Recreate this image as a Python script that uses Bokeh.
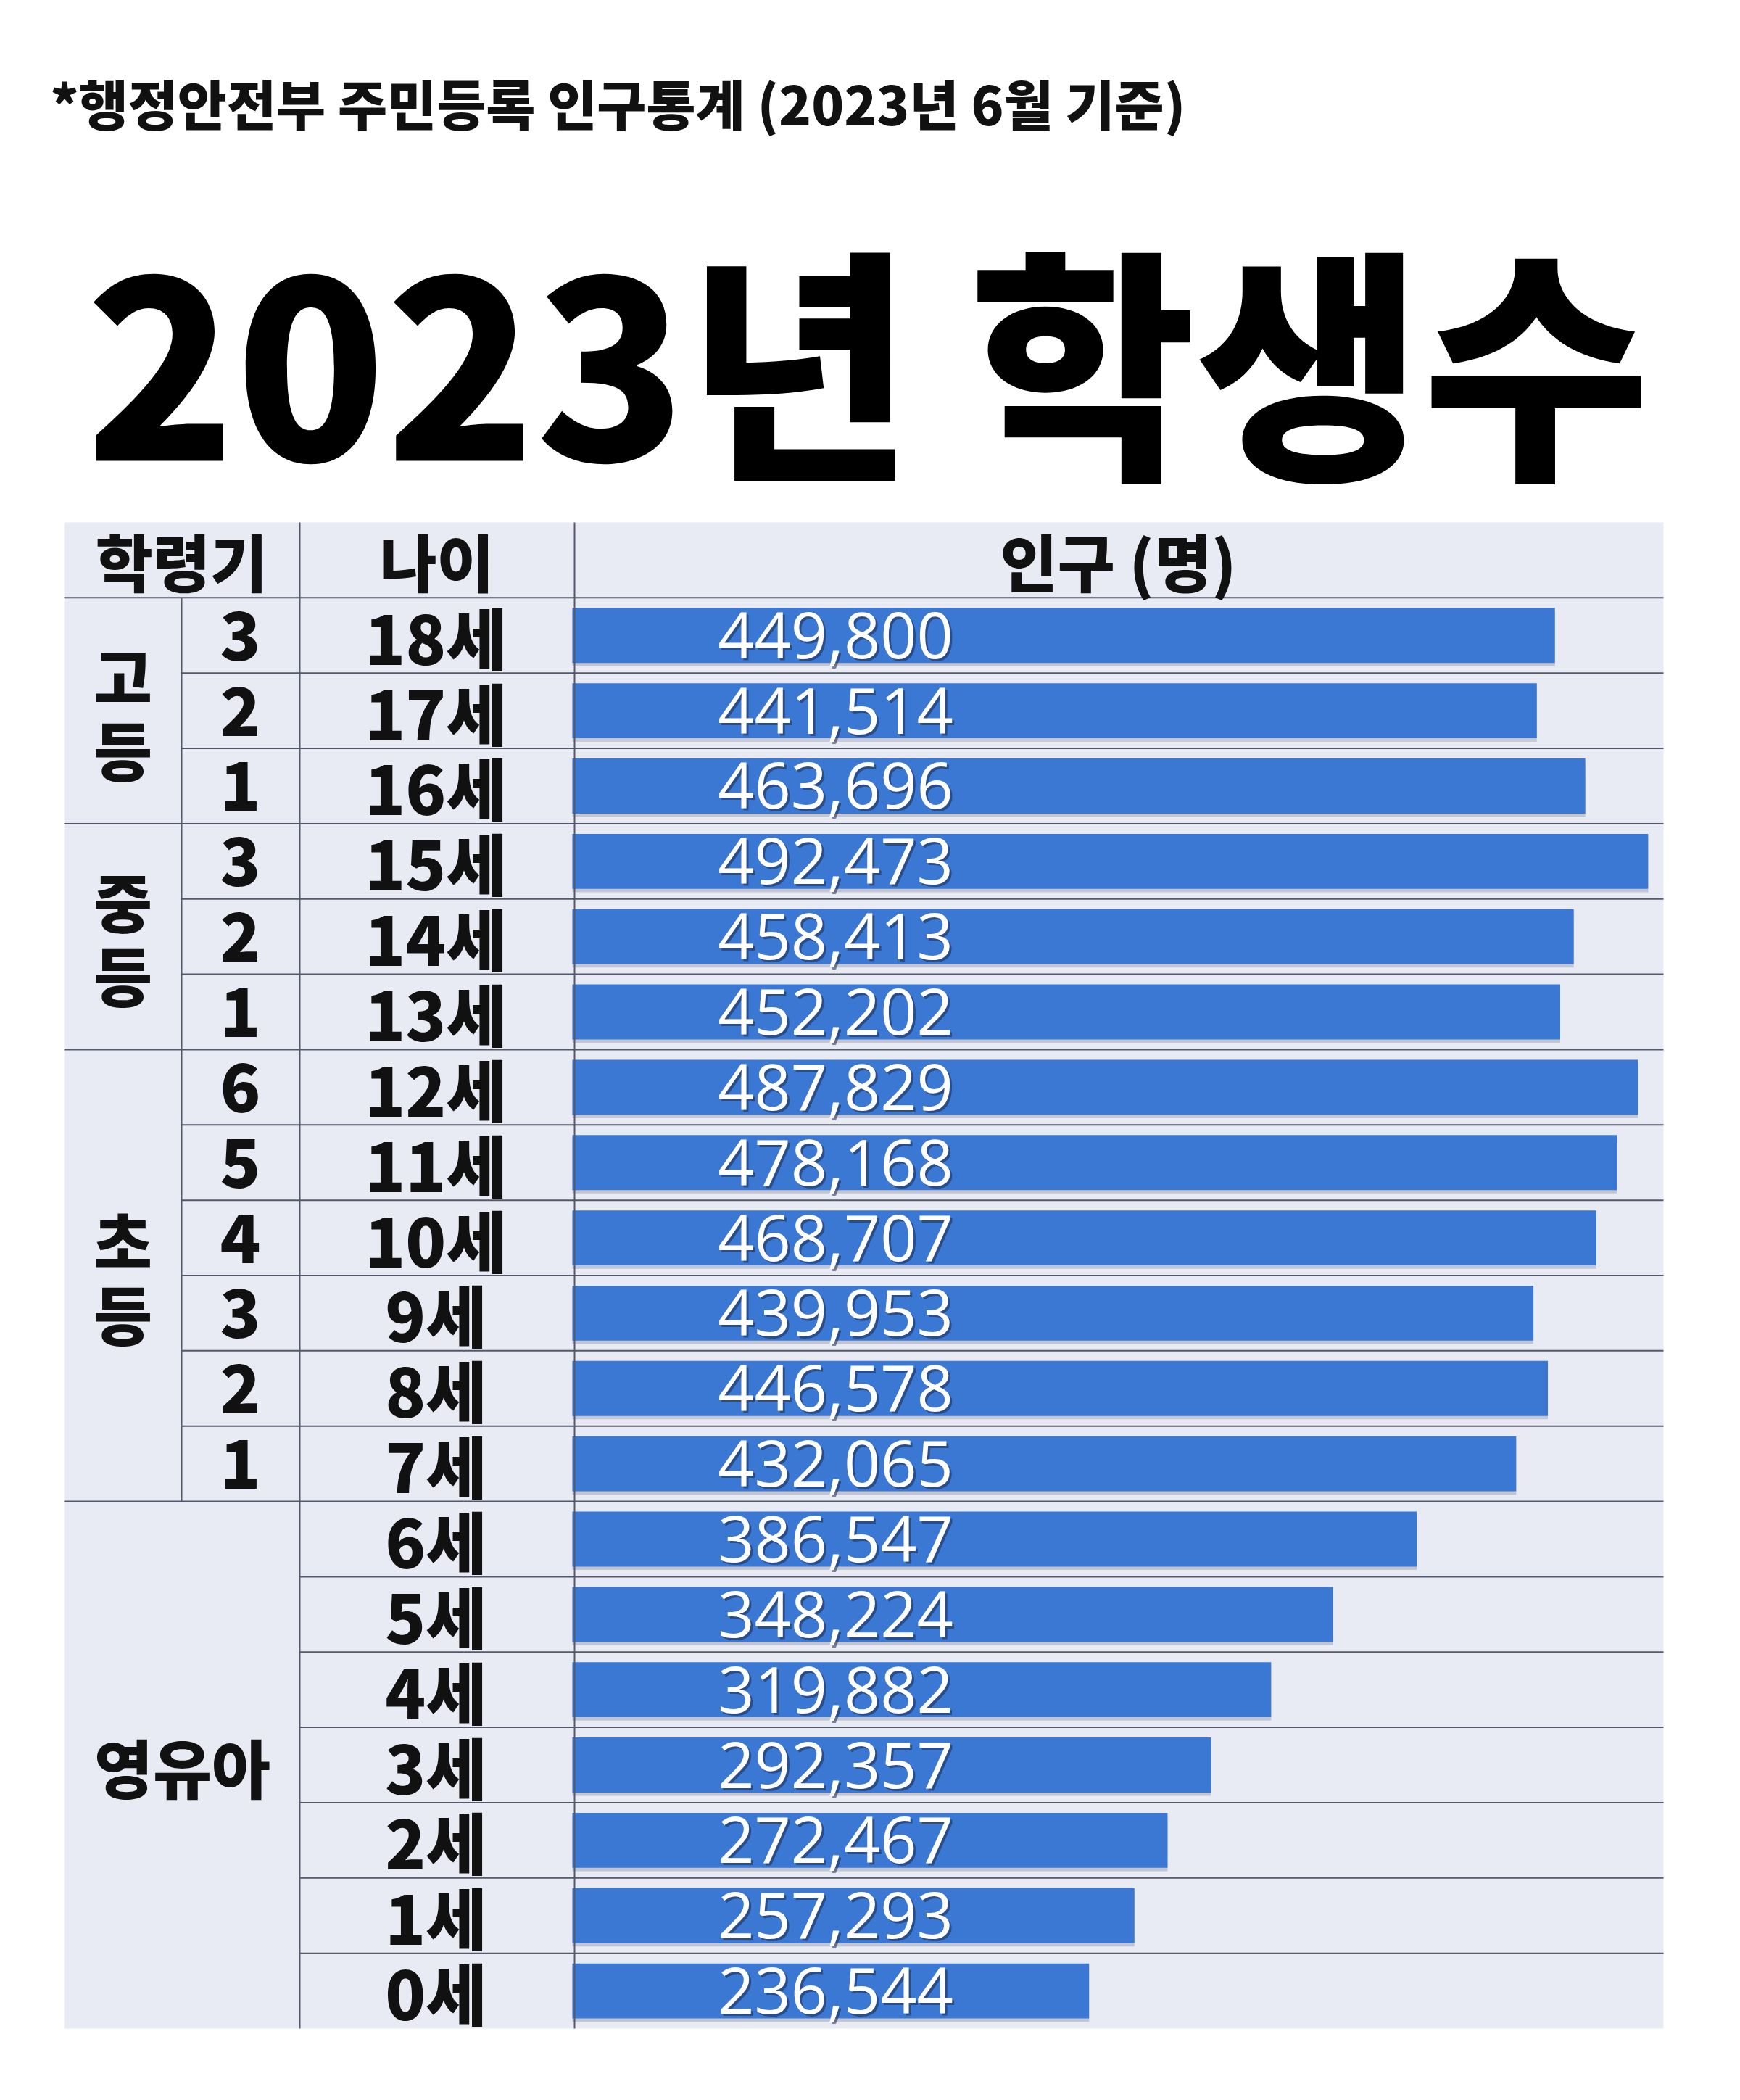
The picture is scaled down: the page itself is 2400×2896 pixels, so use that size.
from bokeh.plotting import figure
from bokeh.models import Range1d
from bokeh.core.properties import value
from bokeh.embed import file_html
from bokeh.resources import INLINE

# ---------------- data ----------------
subtitle = "*행정안전부 주민등록 인구통계 (2023년 6월 기준)"
title = "2023년 학생수"
col_headers = ["학령기", "나이", "인구 (명)"]
groups = ["고등", "중등", "초등", "영유아"]
group_sizes = [3, 3, 6, 7]
grades = ["3", "2", "1", "3", "2", "1", "6", "5", "4", "3", "2", "1"]
ages = ["18세", "17세", "16세", "15세", "14세", "13세", "12세", "11세", "10세",
        "9세", "8세", "7세", "6세", "5세", "4세", "3세", "2세", "1세", "0세"]
population = [449800, 441514, 463696, 492473, 458413, 452202, 487829, 478168,
              468707, 439953, 446578, 432065, 386547, 348224, 319882, 292357,
              272467, 257293, 236544]

# ---------------- layout (reference pixels) ----------------
W, H = 2384, 2880
OX, OY = 0, 0
TABLE_L, TABLE_R = 88, 2294
COL1, COL2, COL3 = 250, 413, 792
TABLE_T = 720
ROW_H = 103.85
BAR_X0 = 789
PX_PER = 0.003013

BAR_COLOR = "#3a78d3"
BG_COLOR = "#e8ebf4"
LINE_COLOR = "#55586a"
TXT = "#111111"
KR = "Noto Sans CJK KR"
KR_BLACK = "Noto Sans CJK KR Black"

p = figure(width=W, height=H,
           x_range=Range1d(OX, OX + W), y_range=Range1d(OY + H, OY),
           x_axis_type=None, y_axis_type=None,
           toolbar_location=None, output_backend="svg", min_border=0)
p.outline_line_color = None
p.background_fill_color = "white"
p.border_fill_color = "white"
p.extra_x_ranges = {"pop": Range1d((OX - BAR_X0) / PX_PER, (OX + W - BAR_X0) / PX_PER)}
p.extra_y_ranges = {"row": Range1d((OY + H - TABLE_T) / ROW_H, (OY - TABLE_T) / ROW_H)}

n = len(ages)
row_y = [i + 1.5 for i in range(n)]

# table background
p.quad(left=[TABLE_L], right=[TABLE_R], top=[0], bottom=[n + 1],
       y_range_name="row", fill_color=BG_COLOR, line_color=None)

# bar shadows + bars
p.hbar(y=[y + 0.045 for y in row_y], left=0, right=population, height=0.73,
       x_range_name="pop", y_range_name="row",
       fill_color="#7d7f95", fill_alpha=0.35, line_color=None)
p.hbar(y=row_y, left=0, right=population, height=0.73,
       x_range_name="pop", y_range_name="row",
       fill_color=BAR_COLOR, line_color=None)

# grid lines
hx0, hx1, hy = [], [], []
boundaries = []
acc = 1
for s in group_sizes:
    acc += s
    boundaries.append(acc)
start = 1
for gi, s in enumerate(group_sizes):
    for r in range(start + 1, start + s):
        hx0.append(COL1 if gi < 3 else COL2)
        hx1.append(TABLE_R)
        hy.append(r)
    start += s
for r in [1] + boundaries[:-1]:
    hx0.append(TABLE_L); hx1.append(TABLE_R); hy.append(r)
p.segment(x0=hx0, x1=hx1, y0=hy, y1=hy, y_range_name="row",
          line_color=LINE_COLOR, line_width=2)
p.segment(x0=[COL2, COL3, COL1], x1=[COL2, COL3, COL1],
          y0=[0, 0, 1], y1=[n + 1, n + 1, boundaries[2]],
          y_range_name="row", line_color=LINE_COLOR, line_width=2)

# header texts
p.text(x=[250, 602, 1542], y=[0.5] * 3, text=col_headers, y_range_name="row",
       text_font=value(KR_BLACK), text_font_style="bold", text_font_size="86px",
       text_align="center", text_baseline="middle", text_color=TXT)

# grades
p.text(x=[331] * len(grades), y=row_y[:len(grades)], text=grades, y_range_name="row",
       text_font=value(KR_BLACK), text_font_style="bold", text_font_size="92px",
       text_align="center", text_baseline="middle", text_color=TXT)

# ages
p.text(x=[601] * n, y=row_y, text=ages, y_range_name="row",
       text_font=value(KR_BLACK), text_font_style="bold", text_font_size="92px",
       text_align="center", text_baseline="middle", text_color=TXT)

# group labels
gx, gy, gt = [], [], []
start = 1
for gi, (g, s) in enumerate(zip(groups, group_sizes)):
    mid = start + s / 2
    if gi < 3:
        for ci, ch in enumerate(g):
            gx.append(169); gy.append(mid + (ci - 0.5) * 0.98); gt.append(ch)
    else:
        gx.append(251); gy.append(mid); gt.append(g)
    start += s
p.text(x=gx, y=gy, text=gt, y_range_name="row",
       text_font=value(KR_BLACK), text_font_style="bold", text_font_size="88px",
       text_align="center", text_baseline="middle", text_color=TXT)

# value labels (with shadow)
labels = [f"{v:,}" for v in population]
p.text(x=[1152] * n, y=row_y, text=labels, y_range_name="row", x_offset=3, y_offset=3,
       text_font=value("Open Sans"), text_font_size="88px",
       text_align="center", text_baseline="middle", text_color="#1b2a4a", text_alpha=0.55)
p.text(x=[1152] * n, y=row_y, text=labels, y_range_name="row",
       text_font=value("Open Sans"), text_font_size="88px",
       text_align="center", text_baseline="middle", text_color="white")

# subtitle and title
p.text(x=[69], y=[140], text=[subtitle],
       text_font=value(KR_BLACK), text_font_style="bold", text_font_size="74px",
       text_align="left", text_baseline="middle", text_color=TXT)
p.text(x=[1196], y=[487], text=[title],
       text_font=value(KR_BLACK), text_font_style="bold", text_font_size="340px",
       text_align="center", text_baseline="middle", text_color="black")

open("out.html", "w").write(file_html(p, INLINE))
